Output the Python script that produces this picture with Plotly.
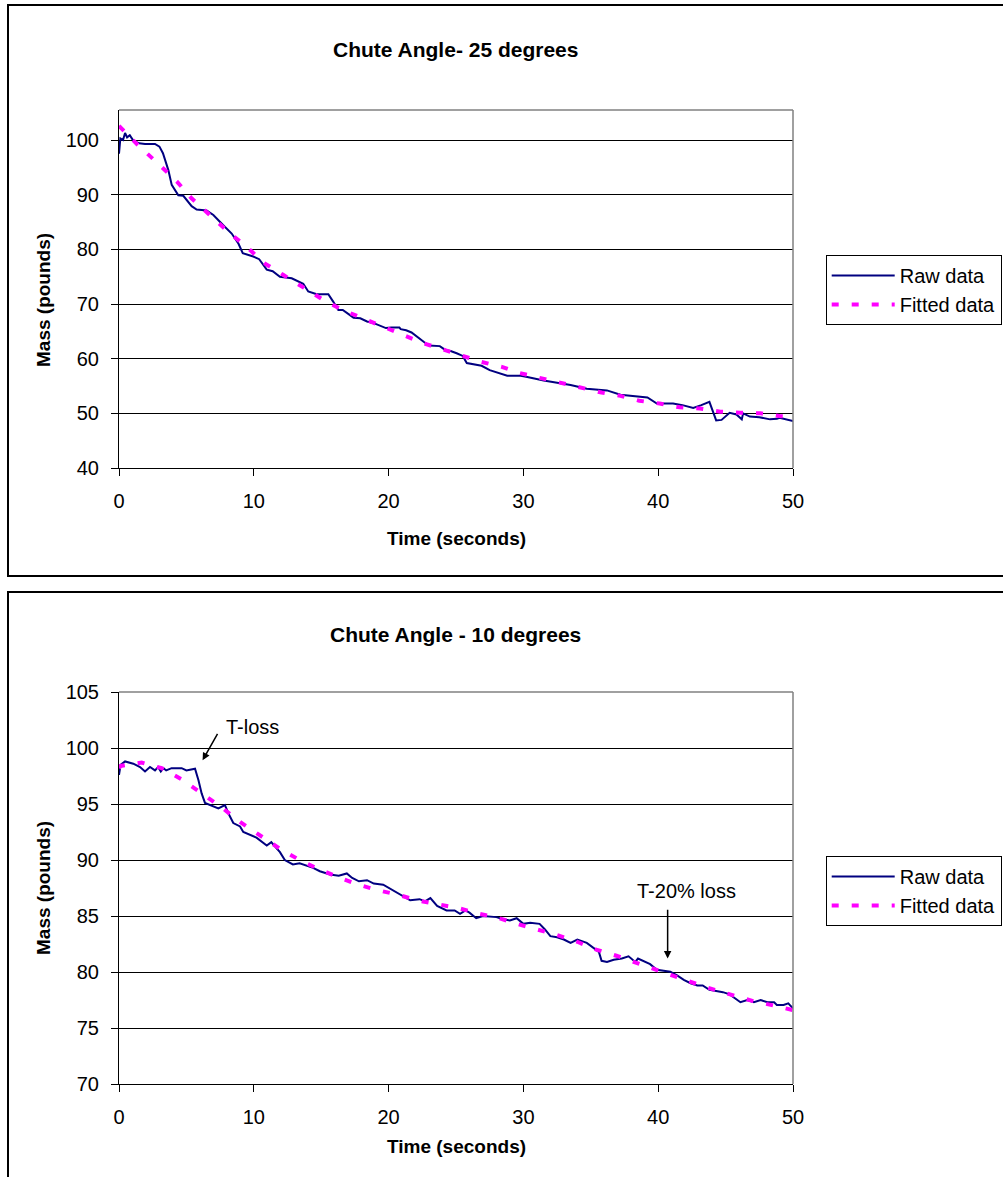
import plotly.graph_objects as go

W, H = 1003, 1177

# ---------------- data: Chute Angle 25 degrees ----------------
top_raw_t = [0, 0.1, 0.3, 0.45, 0.6, 0.8, 1.06, 1.5, 1.93, 2.67, 3.0, 3.26, 3.66, 3.91,
             4.4, 4.77, 5.39, 5.76, 6.5, 7.0, 7.7, 8.36, 8.85, 9.18, 9.96, 10.4, 10.96,
             11.4, 11.94, 12.81, 13.67, 14.04, 14.67, 15.53, 15.9, 16.27, 16.6, 17.0,
             17.4, 17.9, 18.4, 18.9, 19.4, 19.8, 20.2, 20.8, 20.9, 21.3, 21.7, 22.1,
             22.6, 23.0, 23.8, 24.2, 24.6, 25.05, 25.5, 25.8, 26.9, 27.5, 27.9, 28.8,
             29.7, 30.2, 31.5, 32.3, 33.5, 34.7, 36.2, 37.2, 38.2, 39.2, 39.9, 41.1,
             41.8, 42.6, 43.2, 43.8, 44.3, 44.7, 45.3, 45.8, 46.2, 46.3, 46.8, 47.5,
             48.3, 48.8, 49.0, 49.5, 50.0]
top_raw_m = [97.5, 100.3, 100.0, 101.3, 100.5, 100.9, 99.9, 99.4, 99.3, 99.3, 98.8, 97.6,
             94.5, 91.8, 89.9, 89.8, 87.9, 87.3, 87.1, 86.3, 84.5, 82.9, 81.1, 79.3, 78.7,
             78.2, 76.3, 76.0, 75.0, 74.7, 73.7, 72.3, 71.8, 71.8, 70.4, 68.9, 68.9, 68.2,
             67.5, 67.4, 66.8, 66.5, 66.0, 65.6, 65.7, 65.7, 65.4, 65.2, 64.8, 64.0, 63.1,
             62.4, 62.3, 61.6, 61.4, 61.0, 60.5, 59.2, 58.7, 57.9, 57.6, 56.9, 56.9, 56.7,
             56.0, 55.7, 55.2, 54.5, 54.2, 53.4, 53.1, 52.9, 51.8, 51.8, 51.5, 51.0, 51.5,
             52.1, 48.7, 48.8, 50.1, 49.8, 48.9, 50.0, 49.4, 49.3, 48.9, 49.0, 49.2, 48.9,
             48.6]
top_fit_t = [0, 1.4, 2.9, 4.3, 5.4, 6.75, 8.1, 9.5, 10.7, 12.2, 13.7, 15.2, 16.6, 18.1,
             19.5, 21.0, 22.6, 23.9, 25.5, 26.9, 28.4, 29.7, 31.2, 32.8, 34.3, 35.8, 37.2,
             38.6, 40.1, 41.6, 43.1, 44.6, 46.1, 47.6, 49.0, 50.0]
top_fit_m = [102.6, 99.1, 95.7, 92.4, 89.3, 86.3, 83.2, 80.4, 77.6, 75.3, 72.9, 70.7, 68.9,
             67.4, 65.9, 64.4, 62.8, 61.8, 60.5, 59.4, 58.5, 57.4, 56.5, 55.5, 54.7, 53.8,
             53.2, 52.3, 51.8, 51.1, 50.9, 50.3, 50.1, 50.0, 49.5, 49.3]

# ---------------- data: Chute Angle 10 degrees ----------------
bot_raw_t = [0, 0.12, 0.45, 1.06, 1.56, 1.93, 2.3, 2.67, 2.9, 3.1, 3.3, 3.5, 3.9, 4.65,
             5.0, 5.64, 5.9, 6.13, 6.38, 7.0, 7.37, 7.86, 8.1, 8.48, 8.98, 9.22, 9.84,
             10.2, 10.96, 11.3, 11.5, 11.94, 12.3, 12.9, 13.4, 13.9, 14.4, 14.9, 15.65,
             16.3, 16.9, 17.3, 17.8, 18.4, 18.9, 19.6, 20.35, 20.8, 21.6, 22.3, 22.7,
             23.1, 23.6, 24.3, 24.9, 25.3, 25.7, 26.0, 26.5, 27.0, 28.0, 28.5, 29.0, 29.5,
             30.0, 30.5, 31.2, 31.6, 32.0, 32.5, 33.0, 33.5, 34.0, 34.7, 35.2, 35.6, 35.8,
             36.2, 36.7, 37.3, 37.8, 38.3, 38.5, 39.4, 39.9, 40.4, 40.9, 41.4, 41.9, 42.4,
             42.9, 43.3, 43.8, 44.3, 44.8, 45.3, 46.1, 46.6, 47.1, 47.6, 48.1, 48.6, 48.8,
             49.3, 49.65, 50.0]
bot_raw_m = [97.6, 98.5, 98.8, 98.6, 98.3, 97.9, 98.3, 98.0, 98.3, 97.9, 98.2, 98.0, 98.2,
             98.2, 98.0, 98.15, 97.1, 95.95, 95.1, 94.8, 94.6, 94.9, 94.2, 93.3, 93.0, 92.5,
             92.2, 92.0, 91.3, 91.6, 91.3, 90.7, 90.0, 89.6, 89.7, 89.5, 89.3, 89.0, 88.7,
             88.6, 88.8, 88.4, 88.1, 88.2, 87.9, 87.8, 87.3, 87.0, 86.4, 86.5, 86.3, 86.6,
             85.9, 85.5, 85.5, 85.2, 85.5, 85.3, 84.8, 85.0, 84.9, 84.7, 84.6, 84.8, 84.3,
             84.4, 84.3, 83.8, 83.2, 83.1, 82.9, 82.6, 82.9, 82.6, 82.2, 81.8, 81.0, 80.9,
             81.1, 81.2, 81.4, 80.9, 81.2, 80.7, 80.2, 80.1, 80.03, 79.7, 79.3, 79.0, 78.8,
             78.8, 78.4, 78.3, 78.2, 78.0, 77.3, 77.5, 77.3, 77.5, 77.3, 77.3, 77.05, 77.05,
             77.2, 76.75]
bot_fit_t = [0, 0.12, 1.68, 3.17, 4.65, 6.13, 7.5, 8.98, 10.46, 11.94, 13.4, 14.8, 16.3,
             17.75, 19.2, 20.7, 22.1, 23.7, 25.2, 26.7, 28.1, 29.5, 31.0, 32.5, 34.0, 35.4,
             36.9, 38.4, 39.9, 41.3, 42.8, 44.2, 45.7, 47.05, 48.6, 50.0]
bot_fit_m = [98.2, 98.4, 98.7, 98.2, 97.2, 95.95, 94.8, 93.4, 92.2, 91.0, 90.0, 89.2, 88.45,
             87.8, 87.3, 86.9, 86.4, 86.0, 85.7, 85.2, 84.85, 84.3, 83.8, 83.3, 82.7, 82.0,
             81.45, 80.8, 80.2, 79.6, 78.95, 78.4, 77.9, 77.4, 77.0, 76.6]

titles = ["Chute Angle- 25 degrees", "Chute Angle - 10 degrees"]
x_title = "Time (seconds)"
y_title = "Mass (pounds)"
series_names = ["Raw data", "Fitted data"]

FONT = "Arial, Liberation Sans, sans-serif"
RAW_COLOR = "#000080"
FIT_COLOR = "#FF00FF"


def px(x):
    return x / W


def py(y):
    return 1 - y / H


fig = go.Figure()

panels = [
    dict(raw_t=top_raw_t, raw_m=top_raw_m, fit_t=top_fit_t, fit_m=top_fit_m,
         xa="x", ya="y", leg="legend"),
    dict(raw_t=bot_raw_t, raw_m=bot_raw_m, fit_t=bot_fit_t, fit_m=bot_fit_m,
         xa="x2", ya="y2", leg="legend2"),
]
for i, p in enumerate(panels):
    fig.add_trace(go.Scatter(
        x=p["raw_t"], y=p["raw_m"], mode="lines", name=series_names[0],
        line=dict(color=RAW_COLOR, width=2), xaxis=p["xa"], yaxis=p["ya"],
        legend=p["leg"], legendgroup=f"raw{i}"))
    fig.add_trace(go.Scatter(
        x=p["fit_t"], y=p["fit_m"], mode="lines", name=series_names[1],
        line=dict(color=FIT_COLOR, width=4, dash="7px,13px"), xaxis=p["xa"], yaxis=p["ya"],
        legend=p["leg"], legendgroup=f"fit{i}"))

common_x = dict(range=[0, 50], dtick=10, tick0=0, showline=True, linecolor="black",
                linewidth=1, ticks="outside", ticklen=7, tickcolor="black", showgrid=False,
                zeroline=False, tickfont=dict(size=20, color="black", family=FONT),
                ticklabelstandoff=8, fixedrange=True)
common_y = dict(showline=True, linecolor="black", linewidth=1, ticks="outside", ticklen=7,
                tickcolor="black", showgrid=True, gridcolor="black", gridwidth=1,
                zeroline=False, tickfont=dict(size=20, color="black", family=FONT),
                ticklabelstandoff=8, fixedrange=True)

fig.update_layout(
    width=W, height=H,
    margin=dict(l=0, r=0, t=0, b=0, autoexpand=False),
    paper_bgcolor="white", plot_bgcolor="white",
    font=dict(family=FONT, color="black", size=20),
    xaxis=dict(domain=[px(119), px(793)], anchor="y", **common_x),
    yaxis=dict(domain=[py(468), py(110)], anchor="x", range=[40, 105.5], dtick=10, tick0=0,
               **common_y),
    xaxis2=dict(domain=[px(119), px(793)], anchor="y2", **common_x),
    yaxis2=dict(domain=[py(1084), py(692)], anchor="x2", range=[70, 105], dtick=5, tick0=0,
                **common_y),
    legend=dict(x=px(825.7), y=py(255), xanchor="left", yanchor="top", bordercolor="black",
                borderwidth=1, bgcolor="white", font=dict(size=20, family=FONT),
                itemwidth=63, tracegroupgap=6, traceorder="normal"),
    legend2=dict(x=px(825.7), y=py(856), xanchor="left", yanchor="top", bordercolor="black",
                 borderwidth=1, bgcolor="white", font=dict(size=20, family=FONT),
                 itemwidth=63, tracegroupgap=4, traceorder="normal"),
)

shapes = []
# outer chart borders
shapes.append(dict(type="rect", xref="paper", yref="paper", x0=px(8), x1=px(1012),
                   y0=py(576), y1=py(5), line=dict(color="black", width=2), layer="below"))
shapes.append(dict(type="rect", xref="paper", yref="paper", x0=px(8), x1=px(1012),
                   y0=py(1190), y1=py(592), line=dict(color="black", width=2), layer="below"))
# gray plot-area frame (top and right edges)
for xd, yd in (("x domain", "y domain"), ("x2 domain", "y2 domain")):
    xr = xd.split()[0]
    shapes.append(dict(type="line", xref=xd, yref=yd, x0=0, x1=1, y0=1, y1=1,
                       line=dict(color="#808080", width=1.5), layer="above"))
    shapes.append(dict(type="line", xref=xd, yref=yd, x0=1, x1=1, y0=0, y1=1,
                       line=dict(color="#808080", width=1.5), layer="above"))
fig.update_layout(shapes=shapes)

annotations = []
# chart titles
annotations.append(dict(text=f"<b>{titles[0]}</b>", xref="paper", yref="paper",
                        x=px(455), y=py(50), showarrow=False,
                        font=dict(size=21, family=FONT), xanchor="center", yanchor="middle"))
annotations.append(dict(text=f"<b>{titles[1]}</b>", xref="paper", yref="paper",
                        x=px(455), y=py(634), showarrow=False,
                        font=dict(size=21, family=FONT), xanchor="center", yanchor="middle"))
# axis titles
for yy in (538, 1146):
    annotations.append(dict(text=f"<b>{x_title}</b>", xref="paper", yref="paper",
                            x=px(456), y=py(yy), showarrow=False,
                            font=dict(size=19, family=FONT), xanchor="center", yanchor="middle"))
for yy in (300, 888):
    annotations.append(dict(text=f"<b>{y_title}</b>", xref="paper", yref="paper",
                            x=px(43), y=py(yy), showarrow=False, textangle=-90,
                            font=dict(size=19, family=FONT), xanchor="center", yanchor="middle"))
# callouts on the 10-degree chart
annotations.append(dict(text="T-loss", xref="x2", yref="y2", x=9.9, y=101.85, showarrow=False,
                        font=dict(size=20, family=FONT), xanchor="center", yanchor="middle"))
annotations.append(dict(text="", xref="x2", yref="y2", x=6.2, y=98.9, ax=7.37, ay=101.4,
                        axref="x2", ayref="y2", showarrow=True, arrowhead=2, arrowsize=1,
                        arrowwidth=1.5, arrowcolor="black"))
annotations.append(dict(text="T-20% loss", xref="x2", yref="y2", x=42.1, y=87.23,
                        showarrow=False, font=dict(size=20, family=FONT),
                        xanchor="center", yanchor="middle"))
annotations.append(dict(text="", xref="x2", yref="y2", x=40.7, y=81.2, ax=40.7, ay=85.7,
                        axref="x2", ayref="y2", showarrow=True, arrowhead=2, arrowsize=1,
                        arrowwidth=1.5, arrowcolor="black"))
fig.update_layout(annotations=annotations)

fig.write_html("out.html")
